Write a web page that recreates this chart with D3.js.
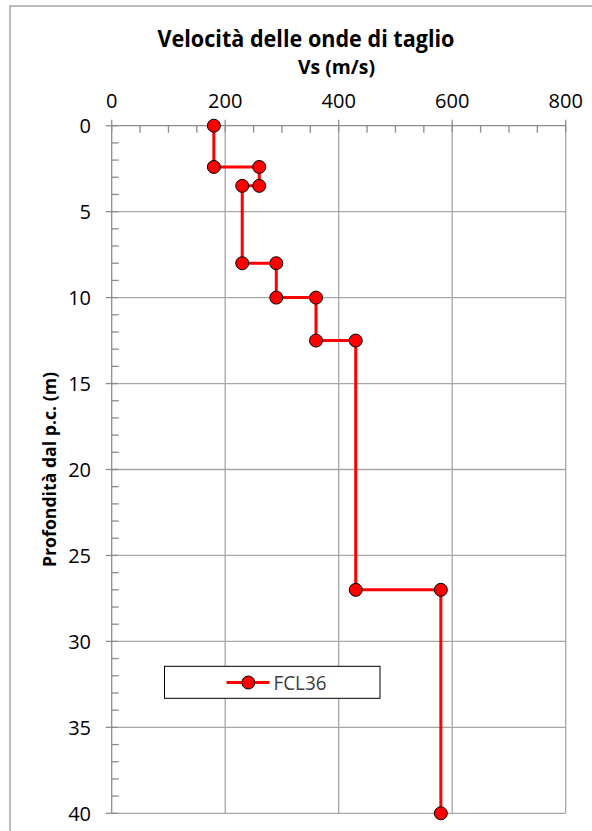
<!DOCTYPE html>
<html>
<head>
<meta charset="utf-8">
<script src="https://cdn.jsdelivr.net/npm/d3@7"></script>
<style>
  body { margin: 0; background: #fff; }
  svg { display: block; }
  text { font-family: "Open Sans", "Liberation Sans", sans-serif; }
</style>
</head>
<body>
<div id="chart"></div>
<script>
// data
var series = "FCL36";
var vs = [180, 180, 260, 260, 230, 230, 290, 290, 360, 360, 430, 430, 580, 580];
var depth = [0, 2.4, 2.4, 3.5, 3.5, 8, 8, 10, 10, 12.5, 12.5, 27, 27, 40];
var xTicks = [0, 200, 400, 600, 800];
var yTicks = [0, 5, 10, 15, 20, 25, 30, 35, 40];

var W = 592, H = 831;
var plot = {left: 111.7, top: 125.7, right: 565.7, bottom: 813.3};

var svg = d3.select("#chart").append("svg")
  .attr("width", W)
  .attr("height", H);

// outer chart frame (runs off the right and bottom edges)
svg.append("rect")
  .attr("x", 10).attr("y", 6)
  .attr("width", 600).attr("height", 900)
  .attr("fill", "#fff")
  .attr("stroke", "#a6a6a6")
  .attr("stroke-width", 1.5);

var x = d3.scaleLinear().domain([0, 800]).range([plot.left, plot.right]);
var y = d3.scaleLinear().domain([0, 40]).range([plot.top, plot.bottom]);

// gridlines
var grid = svg.append("g").attr("stroke", "#a6a6a6").attr("stroke-width", 1.3);
grid.selectAll(".gx").data(xTicks.slice(1)).enter().append("line")
  .attr("x1", d => x(d)).attr("x2", d => x(d))
  .attr("y1", plot.top).attr("y2", plot.bottom);
grid.selectAll(".gy").data(yTicks.slice(1)).enter().append("line")
  .attr("x1", plot.left).attr("x2", plot.right)
  .attr("y1", d => y(d)).attr("y2", d => y(d));

// axes lines + ticks
var ax = svg.append("g").attr("stroke", "#8c8c8c").attr("stroke-width", 1.3);
ax.append("line").attr("x1", plot.left).attr("x2", plot.right)
  .attr("y1", plot.top).attr("y2", plot.top);
ax.append("line").attr("x1", plot.left).attr("x2", plot.left)
  .attr("y1", plot.top).attr("y2", plot.bottom);

var xMinor = d3.range(0, 801, 50).filter(d => d % 200 !== 0);
var yMinor = d3.range(0, 41, 1).filter(d => d % 5 !== 0);

ax.selectAll(".mx").data(xMinor).enter().append("line")
  .attr("x1", d => x(d)).attr("x2", d => x(d))
  .attr("y1", plot.top).attr("y2", plot.top + 7);
ax.selectAll(".Mx").data(xTicks).enter().append("line")
  .attr("x1", d => x(d)).attr("x2", d => x(d))
  .attr("y1", plot.top - 6).attr("y2", plot.top + 6);
ax.selectAll(".my").data(yMinor).enter().append("line")
  .attr("x1", plot.left).attr("x2", plot.left + 7)
  .attr("y1", d => y(d)).attr("y2", d => y(d));
ax.selectAll(".My").data(yTicks).enter().append("line")
  .attr("x1", plot.left - 6).attr("x2", plot.left + 6)
  .attr("y1", d => y(d)).attr("y2", d => y(d));

// tick labels
svg.append("g").selectAll("text").data(xTicks).enter().append("text")
  .attr("x", d => x(d)).attr("y", 107.5)
  .attr("text-anchor", "middle")
  .attr("font-size", 20).attr("fill", "#000")
  .text(d => d);
svg.append("g").selectAll("text").data(yTicks).enter().append("text")
  .attr("x", 91).attr("y", d => y(d) + 7.2)
  .attr("text-anchor", "end")
  .attr("font-size", 20).attr("fill", "#000")
  .text(d => d);

// titles
svg.append("text")
  .attr("x", 306).attr("y", 47)
  .attr("text-anchor", "middle")
  .attr("font-size", 23).attr("font-weight", "bold")
  .attr("textLength", 297).attr("lengthAdjust", "spacingAndGlyphs")
  .text("Velocità delle onde di taglio");
svg.append("text")
  .attr("x", 336.5).attr("y", 74)
  .attr("text-anchor", "middle")
  .attr("font-size", 19).attr("font-weight", "bold")
  .attr("textLength", 77).attr("lengthAdjust", "spacingAndGlyphs")
  .text("Vs (m/s)");
svg.append("text")
  .attr("transform", "translate(56," + ((plot.top + plot.bottom) / 2) + ") rotate(-90)")
  .attr("text-anchor", "middle")
  .attr("font-size", 17).attr("font-weight", "bold")
  .attr("textLength", 195).attr("lengthAdjust", "spacingAndGlyphs")
  .text("Profondità dal p.c. (m)");

// series
var pts = vs.map((v, i) => [v, depth[i]]);
var line = d3.line().x(d => x(d[0])).y(d => y(d[1]));
svg.append("path")
  .attr("d", line(pts))
  .attr("fill", "none")
  .attr("stroke", "#ff0000")
  .attr("stroke-width", 3);
svg.append("g").selectAll("circle").data(pts).enter().append("circle")
  .attr("cx", d => x(d[0])).attr("cy", d => y(d[1]))
  .attr("r", 6.5)
  .attr("fill", "#ff0000")
  .attr("stroke", "#000")
  .attr("stroke-width", 1);

// legend
var lg = svg.append("g");
lg.append("rect")
  .attr("x", 164.5).attr("y", 666.3)
  .attr("width", 215.5).attr("height", 32)
  .attr("fill", "#fff").attr("stroke", "#000").attr("stroke-width", 1);
lg.append("line")
  .attr("x1", 226.5).attr("x2", 269.5)
  .attr("y1", 682.5).attr("y2", 682.5)
  .attr("stroke", "#ff0000").attr("stroke-width", 3);
lg.append("circle")
  .attr("cx", 248.3).attr("cy", 682.5).attr("r", 6.5)
  .attr("fill", "#ff0000").attr("stroke", "#000").attr("stroke-width", 1);
lg.append("text")
  .attr("x", 273.5).attr("y", 689.7)
  .attr("font-size", 20).attr("fill", "#404040")
  .attr("textLength", 53).attr("lengthAdjust", "spacingAndGlyphs")
  .text(series);
</script>
</body>
</html>
